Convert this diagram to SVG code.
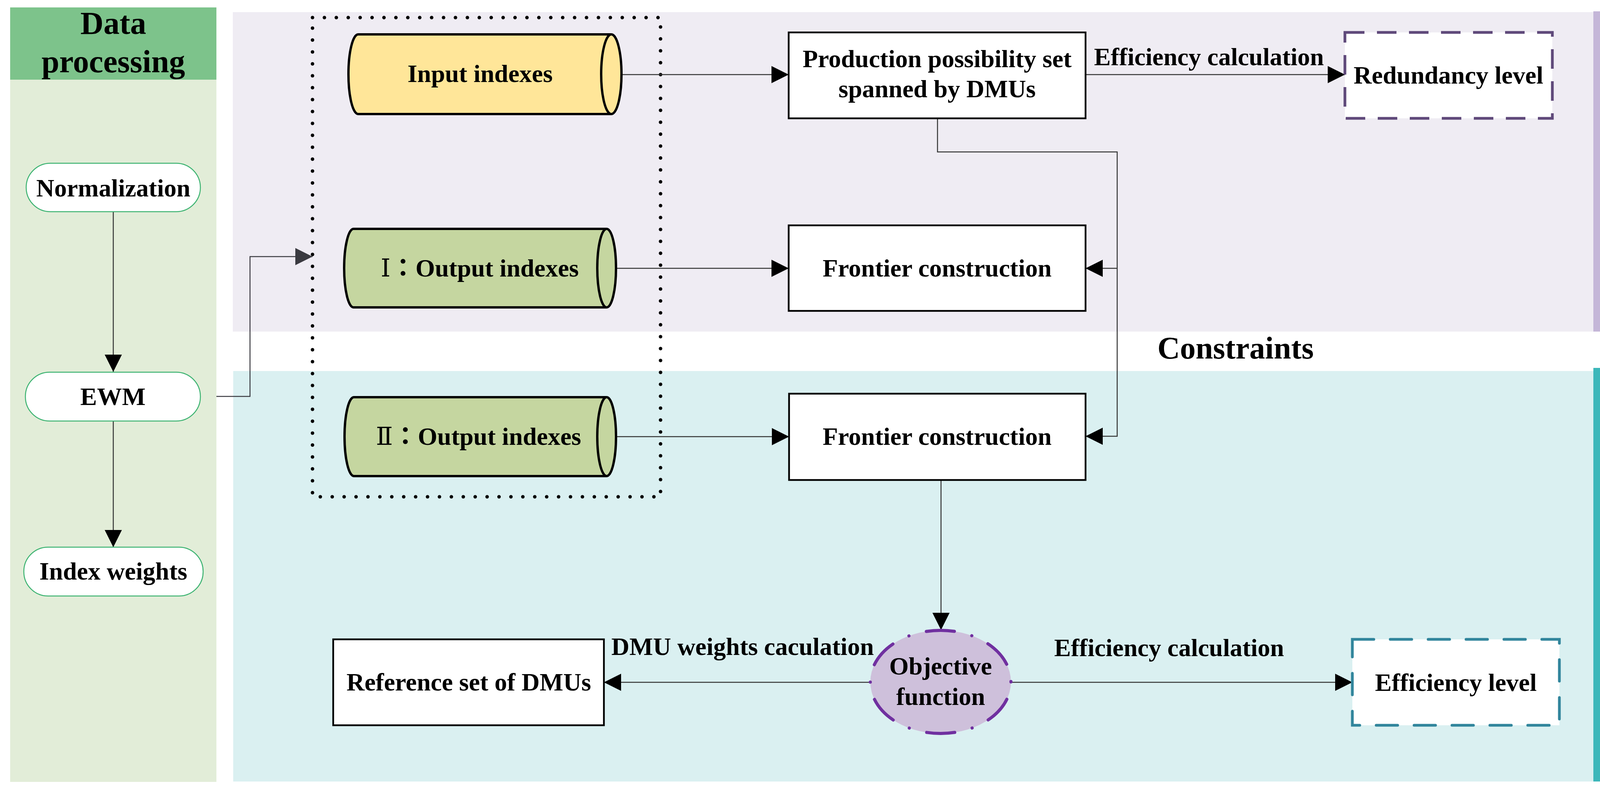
<svg xmlns="http://www.w3.org/2000/svg" width="4296" height="2033" viewBox="0 0 4296 2033">
<style>
  text { font-family: "Liberation Serif", "Times New Roman", "Noto Sans CJK SC", serif; font-weight: bold; fill: #000; }
  .t64 { font-size: 64px; text-anchor: middle; }
  .t80 { font-size: 80px; text-anchor: middle; }
  .side { font-size: 86px; text-anchor: middle; }
  .pill { fill: #ffffff; stroke: #3cb371; stroke-width: 2.5; }
  .box { fill: #ffffff; stroke: #000; stroke-width: 4.5; }
  .cyl { stroke: #000; stroke-width: 6; stroke-linejoin: round; }
  .conn { fill: none; stroke: #333333; stroke-width: 2.5; }
  .roman { font-family: "DejaVu Serif", "Noto Sans CJK TC", serif; font-weight: normal; }
  .fw { font-family: "Noto Sans CJK TC", "Noto Sans CJK JP", "Liberation Serif", sans-serif; }
</style>
<defs>
  <marker id="ah" markerWidth="44" markerHeight="44" refX="44" refY="22" orient="auto" markerUnits="userSpaceOnUse">
    <path d="M0,0 L44,22 L0,44 Z" fill="#000"/>
  </marker>
  <marker id="ahg" markerWidth="44" markerHeight="44" refX="44" refY="22" orient="auto" markerUnits="userSpaceOnUse">
    <path d="M0,0 L44,22 L0,44 Z" fill="#3a3a40"/>
  </marker>
</defs>

<rect width="4296" height="2033" fill="#ffffff"/>

<!-- background panels -->
<g id="panels">
  <rect x="26" y="204" width="528" height="1798" fill="#e2edd8"/>
  <rect x="26" y="19" width="528" height="185" fill="#7dc38b"/>
  <rect x="596" y="31" width="3483" height="818" fill="#efecf3"/>
  <rect x="597" y="950" width="3482" height="1051" fill="#daf0f1"/>
  <rect x="4079" y="29" width="184" height="820" fill="#c4b6d8"/>
  <rect x="4079" y="942" width="184" height="1059" fill="#3cb7ba"/>
</g>

<g id="header-data-processing">
  <text x="290" y="87" class="t80" style="font-size:82px">Data</text>
  <text x="290" y="185" class="t80" style="font-size:82px">processing</text>
</g>

<g id="label-negative">
  <text class="side" transform="translate(4196,439) rotate(90)">Negative effect</text>
  <text class="side" transform="translate(4097,439) rotate(90)">evaluation</text>
</g>
<g id="label-remediation">
  <text class="side" transform="translate(4198,1470) rotate(90)">Remediation potential</text>
  <text class="side" transform="translate(4097,1470) rotate(90)">evaluation</text>
</g>

<g id="label-constraints">
  <text x="3163" y="918" class="t80">Constraints</text>
</g>

<!-- dotted group -->
<g id="index-group">
  <rect x="800" y="45" width="891" height="1227" fill="none" stroke="#000" stroke-width="9" stroke-linecap="round" stroke-dasharray="0 30.5"/>
</g>

<!-- connectors -->
<g id="connectors">
  <path class="conn" d="M290,542 V952" marker-end="url(#ah)"/>
  <path class="conn" d="M290,1078 V1401" marker-end="url(#ah)"/>
  <path class="conn" style="stroke:#3a3a40" d="M554,1015 H640 V657 H800" marker-end="url(#ahg)"/>
  <path class="conn" d="M1566,191 H2019" marker-end="url(#ah)"/>
  <path class="conn" d="M1554,687 H2019" marker-end="url(#ah)"/>
  <path class="conn" d="M1554,1118 H2020" marker-end="url(#ah)"/>
  <path class="conn" d="M2779,191 H3443" marker-end="url(#ah)"/>
  <path class="conn" d="M2400,303 V389 H2860 V1117 H2779" marker-end="url(#ah)"/>
  <path class="conn" d="M2860,687 H2779" marker-end="url(#ah)"/>
  <path class="conn" d="M2409,1229 V1613" marker-end="url(#ah)"/>
  <path class="conn" d="M2228,1747 H1546" marker-end="url(#ah)"/>
  <path class="conn" d="M2588,1747 H3462" marker-end="url(#ah)"/>
</g>

<!-- data processing nodes -->
<g id="node-normalization">
  <rect x="67" y="418" width="446" height="124" rx="62" ry="62" class="pill"/>
  <text x="290" y="503" class="t64">Normalization</text>
</g>
<g id="node-ewm">
  <rect x="65" y="953" width="448" height="125" rx="62" ry="62" class="pill"/>
  <text x="289" y="1037" class="t64">EWM</text>
</g>
<g id="node-index-weights">
  <rect x="61" y="1401" width="459" height="125" rx="62" ry="62" class="pill"/>
  <text x="290" y="1484" class="t64">Index weights</text>
</g>

<!-- cylinders -->
<g id="node-input-indexes">
  <path class="cyl" fill="#ffe699" d="M917,88 H1565 A26,102 0 0 1 1565,292 H917 A25,102 0 0 1 917,88 Z"/>
  <path class="cyl" fill="none" d="M1565,88 A26,102 0 0 0 1565,292"/>
  <text x="1229" y="210" class="t64">Input indexes</text>
</g>
<g id="node-output-1">
  <path class="cyl" fill="#c5d6a0" d="M905,586 H1553 A24,100.5 0 0 1 1553,787 H905 A24,100.5 0 0 1 905,586 Z"/>
  <path class="cyl" fill="none" d="M1553,586 A24,100.5 0 0 0 1553,787"/>
  <text x="1228" y="708" class="t64"><tspan class="roman">Ⅰ</tspan><tspan class="fw">：</tspan>Output indexes</text>
</g>
<g id="node-output-2">
  <path class="cyl" fill="#c5d6a0" d="M906,1017 H1553 A24,101 0 0 1 1553,1219 H906 A24,101 0 0 1 906,1017 Z"/>
  <path class="cyl" fill="none" d="M1553,1017 A24,101 0 0 0 1553,1219"/>
  <text x="1225" y="1139" class="t64"><tspan class="roman">Ⅱ</tspan><tspan class="fw">：</tspan>Output indexes</text>
</g>

<!-- process boxes -->
<g id="node-pps">
  <rect x="2019" y="83" width="760" height="220" class="box"/>
  <text x="2399" y="172" class="t64">Production possibility set</text>
  <text x="2399" y="249" class="t64">spanned by DMUs</text>
</g>
<g id="node-frontier-1">
  <rect x="2019" y="577" width="760" height="219" class="box"/>
  <text x="2399" y="708" class="t64">Frontier construction</text>
</g>
<g id="node-frontier-2">
  <rect x="2020" y="1008" width="759" height="221" class="box"/>
  <text x="2399" y="1139" class="t64">Frontier construction</text>
</g>
<g id="node-reference-set">
  <rect x="853" y="1637" width="693" height="220" class="box"/>
  <text x="1200" y="1768" class="t64">Reference set of DMUs</text>
</g>
<g id="node-redundancy">
  <rect x="3443" y="83" width="531" height="220" fill="#ffffff" stroke="#5f497a" stroke-width="7" stroke-dasharray="50 32"/>
  <text x="3708" y="214" class="t64">Redundancy level</text>
</g>
<g id="node-efficiency-level">
  <rect x="3462" y="1637" width="530" height="220" fill="#ffffff" stroke="#31859c" stroke-width="7" stroke-linecap="round" stroke-dasharray="55 42"/>
  <text x="3727" y="1769" class="t64">Efficiency level</text>
</g>
<g id="node-objective">
  <ellipse cx="2408" cy="1746" rx="180" ry="132" fill="#cec0db" stroke="#7030a0" stroke-width="8" stroke-linecap="round" stroke-dasharray="72 46 0.1 46" stroke-dashoffset="118"/>
  <text x="2408" y="1727" class="t64">Objective</text>
  <text x="2408" y="1805" class="t64">function</text>
</g>

<!-- connector labels -->
<g id="connector-labels">
  <text x="3095" y="167" class="t64">Efficiency calculation</text>
  <text x="1901" y="1677" class="t64">DMU weights caculation</text>
  <text x="2993" y="1680" class="t64">Efficiency calculation</text>
</g>
</svg>
